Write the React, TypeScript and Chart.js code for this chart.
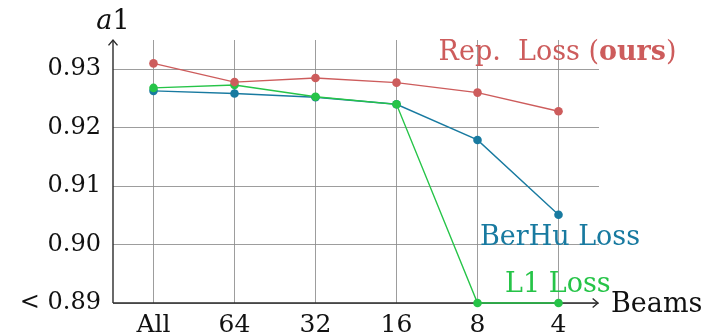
import React, { useEffect, useRef } from "react";
import { Chart, registerables } from "chart.js";

Chart.register(...registerables);

const categories = ["All", "64", "32", "16", "8", "4"];
const repLoss = [0.931, 0.9278, 0.9285, 0.9277, 0.926, 0.9228];
const berhuLoss = [0.9263, 0.92585, 0.9252, 0.924, 0.9179, 0.9051];
const l1Loss = [0.9268, 0.9273, 0.9253, 0.924, 0.89, 0.89];
const yTickValues = [0.89, 0.9, 0.91, 0.92, 0.93];
const yTickLabels = ["< 0.89", "0.90", "0.91", "0.92", "0.93"];

const RED = "rgb(205,92,92)";
const BLUE = "rgb(24,122,160)";
const GREEN = "rgb(38,196,72)";
const FONT = "'DejaVu Serif', serif";
const FS = 24;
const FS_TEXT = 27;

type Run = { text: string; bold?: boolean; italic?: boolean };

function drawRuns(ctx: CanvasRenderingContext2D, runs: Run[], x: number, y: number, color: string, size = FS_TEXT) {
  let cx = x;
  ctx.fillStyle = color;
  ctx.textBaseline = "alphabetic";
  ctx.textAlign = "left";
  for (const r of runs) {
    ctx.font = `${r.italic ? "italic " : ""}${r.bold ? "bold " : ""}${size}px ${FONT}`;
    ctx.fillText(r.text, cx, y);
    cx += ctx.measureText(r.text).width;
  }
}

function arrow(ctx: CanvasRenderingContext2D, x: number, y: number, dx: number, dy: number) {
  const len = 7;
  const a = Math.PI / 4.5;
  const ang = Math.atan2(dy, dx);
  ctx.beginPath();
  ctx.moveTo(x - len * Math.cos(ang - a), y - len * Math.sin(ang - a));
  ctx.lineTo(x, y);
  ctx.lineTo(x - len * Math.cos(ang + a), y - len * Math.sin(ang + a));
  ctx.stroke();
}

const overlay = {
  id: "overlay",
  beforeDatasetsDraw(chart: any) {
    const { ctx, chartArea } = chart;
    const { left, right, top, bottom } = chartArea;
    ctx.save();
    ctx.strokeStyle = "#2b2b2b";
    ctx.lineWidth = 1.4;
    ctx.beginPath();
    ctx.moveTo(left, bottom);
    ctx.lineTo(left, top);
    ctx.moveTo(left, bottom);
    ctx.lineTo(right - 1, bottom);
    ctx.stroke();
    arrow(ctx, left, top, 0, -1);
    arrow(ctx, right - 1, bottom, 1, 0);
    ctx.restore();
  },
  afterDatasetsDraw(chart: any) {
    const { ctx, chartArea } = chart;
    const xs = chart.scales.x;
    const ys = chart.scales.y;
    ctx.save();
    drawRuns(
      ctx,
      [{ text: "Rep.  Loss (" }, { text: "ours", bold: true }, { text: ")" }],
      xs.getPixelForValue(3.52),
      ys.getPixelForValue(0.9316),
      RED
    );
    drawRuns(ctx, [{ text: "BerHu Loss" }], xs.getPixelForValue(4.03), ys.getPixelForValue(0.9), BLUE);
    drawRuns(ctx, [{ text: "L1 Loss" }], xs.getPixelForValue(4.34), ys.getPixelForValue(0.8919), GREEN);
    drawRuns(ctx, [{ text: "Beams" }], chartArea.right + 12, chartArea.bottom + 9, "#111");
    ctx.font = `italic ${FS_TEXT}px ${FONT}`;
    const wa = ctx.measureText("a").width;
    ctx.font = `${FS_TEXT}px ${FONT}`;
    const w1 = ctx.measureText("1").width;
    drawRuns(ctx, [{ text: "a", italic: true }, { text: "1" }], chartArea.left - (wa + w1) / 2, chartArea.top - 11, "#111");
    ctx.restore();
  },
};

export default function App() {
  const ref = useRef<HTMLCanvasElement>(null);
  useEffect(() => {
    if (!ref.current) return;
    const mk = (label: string, data: number[], color: string) => ({
      label,
      data,
      borderColor: color,
      backgroundColor: color,
      borderWidth: 1.4,
      pointRadius: 4.3,
      pointBorderWidth: 0,
      pointHoverRadius: 4.3,
      tension: 0,
      clip: false as any,
    });
    const chart = new Chart(ref.current, {
      type: "line",
      data: {
        labels: categories,
        datasets: [mk("Rep. Loss", repLoss, RED), mk("L1 Loss", l1Loss, GREEN), mk("BerHu Loss", berhuLoss, BLUE)],
      },
      options: {
        responsive: false,
        animation: false,
        layout: { padding: { left: 0, top: 40, right: 104, bottom: 0 } },
        plugins: { legend: { display: false }, tooltip: { enabled: false } },
        scales: {
          x: {
            type: "category",
            offset: true,
            grid: { offset: false, color: "rgba(140,140,140,0.85)", lineWidth: 1, drawTicks: false },
            border: { display: false },
            ticks: { padding: 7, color: "#111", font: { family: FONT, size: 25 }, maxRotation: 0, autoSkip: false },
            afterFit: (s: any) => {
              s.height = 31;
            },
          },
          y: {
            type: "linear",
            min: 0.89,
            max: 0.935,
            afterBuildTicks: (s: any) => {
              s.ticks = yTickValues.map((v) => ({ value: v }));
            },
            grid: { color: "rgba(140,140,140,0.85)", lineWidth: 1, drawTicks: false },
            border: { display: false },
            ticks: {
              padding: 12,
              color: "#111",
              font: { family: FONT, size: FS },
              callback: (v: any) => {
                const i = yTickValues.findIndex((t) => Math.abs(t - Number(v)) < 1e-6);
                return i >= 0 ? yTickLabels[i] : "";
              },
            },
            afterFit: (s: any) => {
              s.width = 113;
            },
          },
        },
      },
      plugins: [overlay],
    });
    return () => chart.destroy();
  }, []);
  return (
    <div style={{ position: "fixed", left: 0, top: 0, width: 703, height: 334, background: "#fff" }}>
      <canvas ref={ref} width={703} height={334} style={{ display: "block" }} />
    </div>
  );
}
